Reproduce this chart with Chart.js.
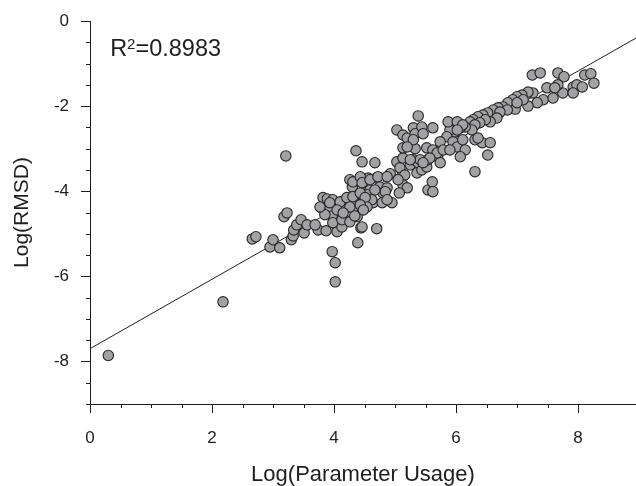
<!DOCTYPE html>
<html>
<head>
<meta charset="utf-8">
<script src="https://cdn.jsdelivr.net/npm/chart.js"></script>
<style>
  html, body { margin: 0; padding: 0; background: #fff; overflow: hidden; }
  #wrap { width: 636px; height: 486px; }
  canvas { display: block; }
</style>
</head>
<body>
<div id="wrap"><canvas id="scatterChart" width="636" height="486"></canvas></div>
<script>
// Log(Parameter Usage) of each point
const usageX = [
  0.30, 2.18, 2.66, 2.72, 2.95, 3.00, 3.11, 3.21, 3.18, 3.23, 3.30, 3.33, 3.34, 3.39, 3.46, 3.51,
  3.56, 3.74, 3.87, 3.80, 3.82, 3.89, 3.93, 3.97, 4.05, 4.05, 4.13, 4.15, 3.97, 4.02, 4.02, 4.39,
  4.44, 4.70, 4.15, 4.21, 4.31, 4.34, 4.38, 4.26, 4.30, 4.43, 4.51, 4.56, 4.59, 4.36, 4.46, 4.67,
  4.70, 4.75, 4.80, 4.87, 4.64, 4.95, 4.92, 5.03, 5.08, 5.13, 5.16, 5.13, 5.20, 5.07, 5.03, 5.13,
  5.20, 4.48, 4.54, 4.62, 5.38, 5.30, 5.33, 5.44, 5.46, 5.33, 4.31, 4.43, 4.46, 4.59, 4.72, 4.84,
  4.87, 5.25, 5.05, 5.30, 5.38, 5.36, 5.44, 5.52, 5.54, 3.98, 4.10, 4.21, 4.31, 4.43, 4.51, 4.67,
  4.54, 4.79, 3.85, 4.05, 4.43, 4.48, 3.69, 3.98, 4.13, 4.26, 4.34, 4.46, 7.25, 7.38, 7.49, 7.26,
  7.18, 7.08, 7.00, 6.93, 6.85, 6.77, 6.69, 6.61, 6.52, 6.44, 6.36, 6.28, 6.23, 7.43, 7.33, 7.18,
  6.97, 6.84, 6.72, 6.67, 6.56, 6.48, 6.39, 6.31, 6.26, 6.15, 6.07, 5.98, 5.90, 5.85, 5.87, 6.02,
  6.11, 5.62, 5.30, 5.13, 5.20, 6.43, 6.31, 6.56, 6.52, 6.31, 5.52, 5.62, 5.74, 5.95, 6.02, 6.11,
  6.15, 6.07, 5.70, 5.74, 5.54, 5.41, 5.25, 7.67, 7.77, 8.11, 8.21, 8.26, 7.92, 7.98, 8.07, 7.75,
  7.92, 7.67, 7.62, 7.59, 7.10, 5.61, 5.62, 5.69, 5.79, 5.90, 5.57, 5.46, 3.77, 3.93, 4.26, 4.87,
  4.15, 7.00, 6.36, 6.02
];
// Log(RMSD) of each point
const rmsdY = [
  -7.86, -6.60, -5.12, -5.07, -5.31, -5.14, -5.33, -3.17, -4.60, -4.51, -5.14, -5.05, -4.91, -4.79, -4.67, -4.98,
  -4.79, -4.91, -4.93, -4.39, -4.15, -4.18, -4.37, -4.58, -4.79, -4.95, -4.84, -4.62, -5.42, -5.68, -6.13, -5.21,
  -4.86, -4.88, -4.44, -4.20, -4.39, -4.25, -4.60, -3.73, -3.90, -3.73, -3.92, -3.69, -3.97, -3.05, -3.31, -3.33,
  -3.69, -3.90, -4.04, -3.92, -4.27, -4.27, -3.59, -3.31, -3.45, -3.22, -3.62, -3.85, -3.92, -4.04, -2.56, -2.68,
  -2.75, -4.13, -4.08, -4.20, -2.23, -2.51, -2.65, -2.49, -2.65, -3.00, -3.78, -3.66, -3.80, -3.73, -3.66, -4.01,
  -3.66, -3.38, -3.73, -3.26, -3.33, -3.57, -3.50, -3.43, -3.97, -4.20, -4.25, -4.15, -4.13, -4.04, -4.15, -3.97,
  -4.37, -4.27, -4.55, -4.44, -4.32, -4.44, -4.79, -4.74, -4.67, -4.72, -4.58, -4.84, -1.27, -1.22, -1.57, -1.69,
  -1.67, -1.74, -1.78, -1.85, -1.92, -2.02, -2.04, -2.09, -2.16, -2.21, -2.25, -2.32, -2.37, -1.85, -1.92, -2.00,
  -2.07, -2.09, -2.14, -2.28, -2.37, -2.32, -2.39, -2.44, -2.56, -2.49, -2.51, -2.61, -2.56, -2.72, -2.37, -2.37,
  -2.44, -2.51, -2.79, -2.98, -2.96, -2.86, -2.79, -2.86, -3.15, -3.54, -2.98, -3.03, -2.84, -2.84, -2.96, -2.79,
  -3.03, -3.19, -3.19, -3.33, -3.26, -3.26, -3.26, -1.22, -1.31, -1.27, -1.24, -1.46, -1.55, -1.50, -1.55, -1.69,
  -1.69, -1.50, -1.57, -1.81, -1.85, -3.78, -4.01, -3.10, -3.03, -3.03, -3.22, -3.33, -4.37, -4.27, -4.37, -4.20,
  -4.51, -1.92, -2.75, -2.56
];
// regression line end points
const fitX = [0, 9];
const fitY = [-7.7, -0.36];
const rSquared = "0.8983";

const xTitle = "Log(Parameter Usage)";
const yTitle = "Log(RMSD)";
const xMajorTicks = [0, 2, 4, 6, 8];
const yMajorTicks = [0, -2, -4, -6, -8];

const FONT = "'Liberation Sans', Arial, sans-serif";
const INK = "#1e1e1e";

const points = usageX.map((x, i) => ({ x: x, y: rmsdY[i] }));
const fitLine = fitX.map((x, i) => ({ x: x, y: fitY[i] }));

const isMajor = (v, list) => list.some(t => Math.abs(t - v) < 1e-6);
const onHalfStep = v => Math.abs(v * 2 - Math.round(v * 2)) < 1e-6;

// minor ticks shorter than major ones, and the R² note
const extrasPlugin = {
  id: "extras",
  afterDraw(chart) {
    const c = chart.ctx;
    const xs = chart.scales.x, ys = chart.scales.y;
    c.save();
    c.strokeStyle = INK;
    c.lineWidth = 1;
    c.beginPath();
    xs.ticks.forEach(t => {
      if (isMajor(t.value, xMajorTicks)) return;
      const px = Math.round(xs.getPixelForValue(t.value)) + 0.5;
      c.moveTo(px, xs.top);
      c.lineTo(px, xs.top + 4);
    });
    ys.ticks.forEach(t => {
      if (isMajor(t.value, yMajorTicks)) return;
      const py = Math.round(ys.getPixelForValue(t.value)) + 0.5;
      c.moveTo(ys.right, py);
      c.lineTo(ys.right - 4, py);
    });
    c.stroke();

    c.fillStyle = INK;
    c.textBaseline = "alphabetic";
    c.textAlign = "left";
    const lx = xs.getPixelForValue(0.33);
    const ly = ys.getPixelForValue(-0.82);
    c.font = "23.5px " + FONT;
    c.fillText("R", lx, ly);
    const rw = c.measureText("R").width;
    c.font = "15px " + FONT;
    c.fillText("2", lx + rw, ly - 7);
    const sw = c.measureText("2").width;
    c.font = "23.5px " + FONT;
    c.fillText("=" + rSquared, lx + rw + sw, ly);
    c.restore();
  }
};

function axis(min, max, major, title, isX) {
  return {
    type: "linear",
    min: min,
    max: max,
    afterBuildTicks(scale) {
      scale.ticks = scale.ticks.filter(t => onHalfStep(t.value));
    },
    afterFit(scale) {
      if (isX) {
        scale.height = 82;
        scale.paddingLeft = 0;
        scale.paddingRight = 0;
      } else {
        scale.width = 90;
        scale.paddingTop = 0;
        scale.paddingBottom = 0;
      }
    },
    border: { display: true, color: INK, width: 1 },
    grid: {
      drawOnChartArea: false,
      drawTicks: true,
      tickLength: 9,
      color: ctx => (ctx.tick && isMajor(ctx.tick.value, major)) ? INK : "rgba(0,0,0,0)"
    },
    ticks: {
      stepSize: 0.5,
      autoSkip: false,
      maxRotation: 0,
      padding: isX ? 15 : 12,
      color: INK,
      font: { family: FONT, size: 17 },
      callback: v => isMajor(v, major) ? String(v) : ""
    },
    title: {
      display: true,
      text: title,
      color: INK,
      font: { family: FONT, size: isX ? 22 : 21 },
      padding: isX ? { top: 0, bottom: -2 } : { top: 10, bottom: 0 }
    }
  };
}

new Chart(document.getElementById("scatterChart").getContext("2d"), {
  type: "scatter",
  data: {
    datasets: [
      {
        label: "proteins",
        data: points,
        pointRadius: 5.2,
        pointBackgroundColor: "#a2a2a4",
        pointBorderColor: "#262626",
        pointBorderWidth: 1.1,
        showLine: false
      },
      {
        type: "line",
        label: "fit",
        data: fitLine,
        borderColor: "#1e1e1e",
        borderWidth: 1,
        pointRadius: 0,
        fill: false,
        tension: 0
      }
    ]
  },
  options: {
    responsive: false,
    animation: false,
    layout: { autoPadding: false, padding: { top: 21, right: 0, bottom: 0, left: 0 } },
    plugins: {
      legend: { display: false },
      tooltip: { enabled: false }
    },
    scales: {
      x: axis(0, 8.95, xMajorTicks, xTitle, true),
      y: axis(-9, 0, yMajorTicks, yTitle, false)
    }
  },
  plugins: [extrasPlugin]
});
</script>
</body>
</html>
